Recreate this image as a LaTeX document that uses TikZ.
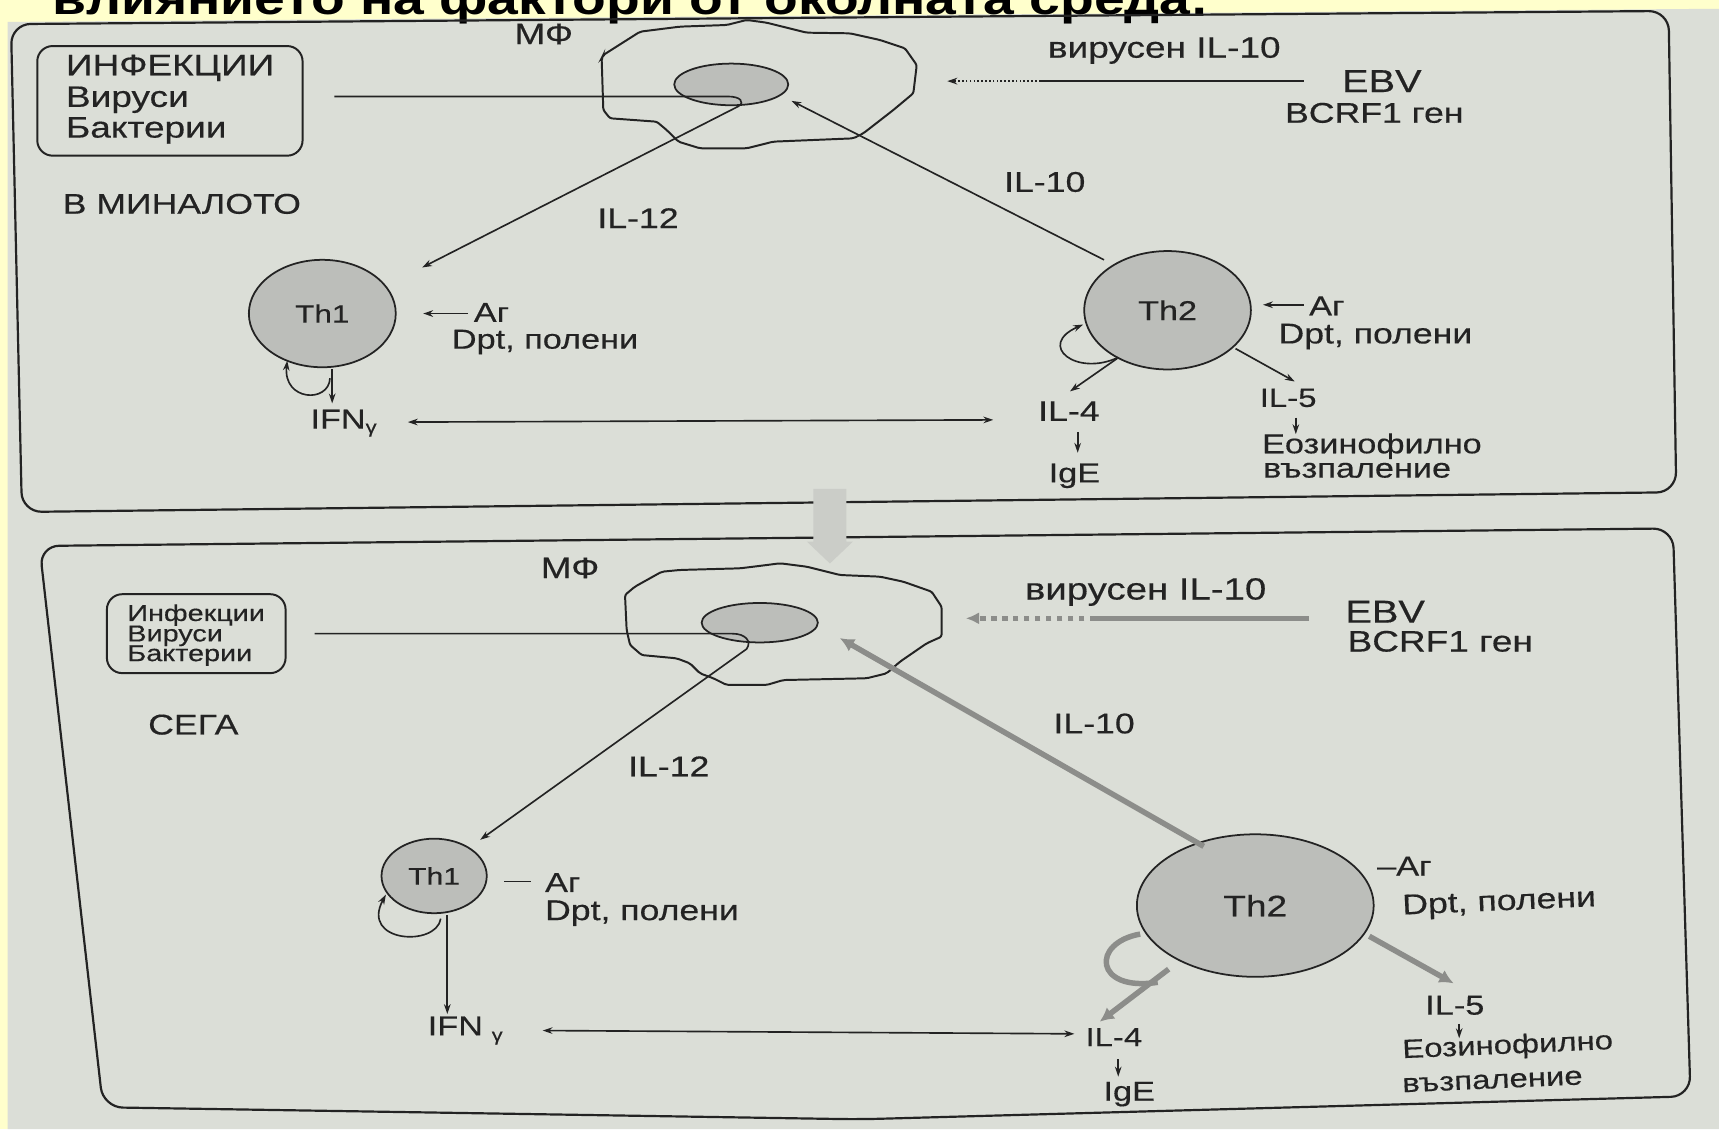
\documentclass[tikz,border=0pt]{standalone}
\usepackage{fontspec}
\setmainfont{Liberation Sans}[FakeStretch=1.25,FakeBold=0.4]
\newfontfamily\titlefont{Liberation Sans}[FakeStretch=1.2]
\usetikzlibrary{arrows.meta,shapes.geometric}
\definecolor{bgyellow}{RGB}{255,255,204}
\definecolor{paper}{RGB}{219,222,215}
\definecolor{ink}{RGB}{35,35,35}
\definecolor{cellfill}{RGB}{188,190,186}
\definecolor{thickgray}{RGB}{140,141,138}
\definecolor{arrowblob}{RGB}{203,205,200}
\newcommand\myfs[1]{\fontsize{#1}{#1}\selectfont}
\tikzset{
  inkline/.style={draw=ink, line width=1.5pt},
  arr/.style={inkline, -{Stealth[length=9pt,width=6pt]}},
  dblarr/.style={inkline, {Stealth[length=9pt,width=6pt]}-{Stealth[length=9pt,width=6pt]}},
  garr/.style={draw=thickgray, line width=5pt, -{Latex[length=13pt,width=13pt]}},
  gline/.style={draw=thickgray, line width=5pt},
  panel/.style={draw=ink, line width=2pt, rounded corners=18pt},
  cellline/.style={draw=ink, line width=1.8pt, rounded corners=2pt},
  tcell/.style={ellipse, draw=ink, line width=1.6pt, fill=cellfill, inner sep=0pt},
  lbl/.style={inner sep=0pt, text=ink},
  infbox/.style={draw=ink, line width=1.8pt, rounded corners=14pt, inner sep=0pt},
}
\begin{document}
\begin{tikzpicture}[x=1pt,y=-1pt]
\useasboundingbox (0,0) rectangle (1568,1030);
\clip (0,0) rectangle (1568,1030);
\fill[bgyellow] (0,0) rectangle (1568,1030);
\fill[paper] (7,20) -- (1568,8) -- (1568,1030) -- (7,1030) -- cycle;
\node[anchor=base west, inner sep=0pt, font=\titlefont\bfseries\myfs{42}] (title) at (48,13) {влиянието на фактори от околната среда:};

% ================= TOP PANEL =================
\draw[panel] (10,22) -- (1522,10) -- (1529,449) -- (20,467) -- cycle;
\node[infbox, minimum width=242pt, minimum height=100pt] (infbox1) at (155,92) {};
\node[lbl, anchor=west, font=\myfs{27}] (inf1a) at (60,62) {ИНФЕКЦИИ};
\node[lbl, anchor=west, font=\myfs{27}] (inf1b) at (60,91) {Вируси};
\node[lbl, anchor=west, font=\myfs{27}] (inf1c) at (60,119) {Бактерии};
\node[lbl, font=\myfs{27}] (mf1) at (496,31) {МФ};
\draw[cellline] (583.8,28.9) -- (550.3,50.2) -- (548.8,53.2) -- (550.3,100.3) -- (556.4,107.9) -- (599,111) -- (608.1,118.6) -- (618.7,129.2) -- (638.5,135.3) -- (681.1,135.3) -- (705.4,129.2) -- (778.4,126.2) -- (787.5,121.6) -- (814.9,100.3) -- (833.1,85.1) -- (836.2,59.3) -- (825.5,44.1) -- (802.7,36.5) -- (775.3,30.4) -- (735.8,29.8) -- (699.3,20.7) -- (681.1,18.2) -- (662.9,22.8) -- (620.3,24.3) -- cycle;
\node[tcell, minimum width=104pt, minimum height=38pt] (nuc1) at (667,77) {};
\node[lbl, font=\myfs{27}] (vir1) at (1062,46) {вирусен IL-10};
\node[lbl, anchor=west, font=\myfs{29}] (ebv1) at (1224,74) {EBV};
\node[lbl, anchor=west, font=\myfs{26}] (bcrf1) at (1172,103) {BCRF1 ген};
\coordinate (vtip1) at (864,74);
\coordinate (vmid1) at (949,74);
\coordinate (vend1) at (1189,74);
\draw[inkline] (vend1) -- (vmid1);
\draw[inkline, dotted, -{Stealth[length=9pt,width=6pt]}] (vmid1) -- (vtip1);
\node[lbl, anchor=west, font=\myfs{26}] (past) at (57,186) {В МИНАЛОТО};
\node[lbl, font=\myfs{26}] (il12a) at (582,199) {IL-12};
\node[lbl, font=\myfs{26}] (il10a) at (953,166) {IL-10};
\node[tcell, minimum width=134pt, minimum height=98pt, font=\myfs{23}, text=ink] (th1a) at (294,286) {Th1};
\node[tcell, minimum width=152pt, minimum height=108pt, font=\myfs{25}, text=ink] (th2a) at (1065,283) {Th2};
% IL-12 hook line
\coordinate (l1start) at (305,88);
\coordinate (hook1) at (673.5,97);
\coordinate (th1in) at (385,244);
\draw[arr] (l1start) -- (664,88) .. controls (675,88) and (680,93) .. (hook1) -- (th1in);
% IL-10
\coordinate (th2out) at (1007,237);
\coordinate (mfin1) at (722,92);
\draw[arr] (th2out) -- (mfin1);
% antigen Th1
\node[lbl, anchor=west, font=\myfs{25}] (ag1) at (432,285) {Аг};
\node[lbl, anchor=west, font=\myfs{25}] (dpt1) at (412,312) {Dpt, полени};
\coordinate (ag1s) at (427,286);
\coordinate (ag1e) at (386,286);
\draw[arr] (ag1s) -- (ag1e);
% Th1 loop and IFN
\draw[arr] (301,345) .. controls (300,368) and (258,366) .. (262,329);
\coordinate (ifnsA) at (303,337);
\coordinate (ifneA) at (303,368);
\draw[arr] (ifnsA) -- (ifneA);
\node[lbl, anchor=west, font=\myfs{25}] (ifn1) at (283,386) {IFN\raisebox{-4pt}{\myfs{16}γ}};
\node[lbl, font=\myfs{26}] (il4a) at (975,375) {IL-4};
\node[lbl, font=\myfs{25}] (ige1) at (980,434) {IgE};
\coordinate (dblL1) at (372,385);
\coordinate (dblR1) at (906,383);
\draw[dblarr] (dblL1) -- (dblR1);
\coordinate (ige1s) at (983,394);
\coordinate (ige1e) at (983,413);
\draw[arr] (ige1s) -- (ige1e);
% Th2 antigen
\node[lbl, anchor=west, font=\myfs{25}] (ag2) at (1194,279) {Аг};
\node[lbl, anchor=west, font=\myfs{26}] (dpt2) at (1166,307) {Dpt, полени};
\coordinate (ag2s) at (1189,278);
\coordinate (ag2e) at (1152,278);
\draw[arr] (ag2s) -- (ag2e);
% Th2 loop, IL-4, IL-5
\draw[arr] (1020,326) .. controls (982,344) and (945,315) .. (988,296);
\coordinate (il4s1) at (1019,327);
\coordinate (il4e1) at (976,357);
\draw[arr] (il4s1) -- (il4e1);
\coordinate (il5s1) at (1127,318);
\coordinate (il5e1) at (1181,348);
\draw[arr] (il5s1) -- (il5e1);
\node[lbl, font=\myfs{24}] (il5a) at (1175,363) {IL-5};
\coordinate (eo1s) at (1182,381);
\coordinate (eo1e) at (1182,396);
\draw[arr] (eo1s) -- (eo1e);
\node[lbl, anchor=west, font=\myfs{25}] (eo1) at (1151,407) {Еозинофилно};
\node[lbl, anchor=west, font=\myfs{25}] (vz1) at (1152,429) {възпаление};

% ================= BOTTOM PANEL =================
\draw[panel] (36,498) -- (1526,482) -- (1542,1000) -- (784,1021) -- (94,1010) -- cycle;
% ================= DOWN ARROW BETWEEN PANELS =================
\fill[arrowblob] (742,446) -- (772,446) -- (772,494) -- (778,494) -- (757,514) -- (736,494) -- (742,494) -- cycle;

\node[infbox, minimum width=163pt, minimum height=72pt] (infbox2) at (179,578) {};
\node[lbl, anchor=west, font=\myfs{21}] (inf2a) at (116,561) {Инфекции};
\node[lbl, anchor=west, font=\myfs{21}] (inf2b) at (116,580) {Вируси};
\node[lbl, anchor=west, font=\myfs{21}] (inf2c) at (116,598) {Бактерии};
\node[lbl, font=\myfs{27}] (mf2) at (520,518) {МФ};
\draw[cellline] (603.6,521.5) -- (579.2,535.1) -- (570.1,542.7) -- (571.6,574.7) -- (574.7,588.3) -- (585.3,597.5) -- (617.2,600.5) -- (629.4,605.1) -- (638.5,614.2) -- (650.7,618.7) -- (662.8,624.8) -- (699.3,624.8) -- (714.5,620.3) -- (790.5,618.7) -- (808.8,614.2) -- (820.9,603.6) -- (845.3,586.8) -- (858.9,580.7) -- (858.9,553.4) -- (849.8,539.7) -- (824,530.6) -- (802.7,526) -- (766.2,524.5) -- (735.8,516.9) -- (711.5,513.8) -- (699.3,515.4) -- (675,518.4) -- (620.3,519.9) -- cycle;
\node[tcell, minimum width=106pt, minimum height=36pt] (nuc2) at (693,568) {};
\node[lbl, font=\myfs{28}] (vir2) at (1045,540) {вирусен IL-10};
\node[lbl, anchor=west, font=\myfs{29}] (ebv2) at (1227,558) {EBV};
\node[lbl, anchor=west, font=\myfs{27}] (bcrf2) at (1229,585) {BCRF1 ген};
\coordinate (vtip2) at (881,564);
\coordinate (vmid2) at (999,564);
\coordinate (vend2) at (1194,564);
\draw[draw=thickgray, line width=5pt] (vend2) -- (vmid2);
\draw[draw=thickgray, line width=5pt, dash pattern=on 5pt off 5pt, -{Latex[length=12pt,width=11pt]}] (vmid2) -- (vtip2);
\node[lbl, anchor=west, font=\myfs{26}] (now) at (135,661) {СЕГА};
\node[lbl, font=\myfs{26}] (il12b) at (610,699) {IL-12};
\node[lbl, font=\myfs{26}] (il10b) at (998,660) {IL-10};
\node[tcell, minimum width=96pt, minimum height=68pt, font=\myfs{22}, text=ink] (th1b) at (396,799) {Th1};
\node[tcell, minimum width=216pt, minimum height=130pt, font=\myfs{27}, text=ink] (th2b) at (1145,826) {Th2};
% IL-12 hook line
\coordinate (l2start) at (287,578);
\coordinate (hook2) at (681,592);
\coordinate (th1in2) at (438,766);
\draw[arr] (l2start) -- (668,578) .. controls (680,578) and (686,585) .. (hook2) -- (th1in2);
% thick IL-10
\coordinate (th2out2) at (1098,772);
\coordinate (mfin2) at (766,582);
\draw[garr] (th2out2) -- (mfin2);
% antigen Th1
\coordinate (dashL) at (460,804);
\coordinate (dashR) at (484,804);
\draw[inkline] (dashL) -- (dashR);
\node[lbl, anchor=west, font=\myfs{25}] (ag3) at (497,805) {Аг};
\node[lbl, anchor=west, font=\myfs{26}] (dpt3) at (497,833) {Dpt, полени};
\draw[arr] (402,838) .. controls (398,864) and (328,860) .. (352,816);
\coordinate (ifnsB) at (408,835);
\coordinate (ifneB) at (408,925);
\draw[arr] (ifnsB) -- (ifneB);
\node[lbl, anchor=west, font=\myfs{25}] (ifn2) at (390,940) {IFN\hspace{8pt}\raisebox{-5pt}{\myfs{16}γ}};
\coordinate (dblL2) at (495,940);
\coordinate (dblR2) at (980,943);
\draw[dblarr] (dblL2) -- (dblR2);
\node[lbl, font=\myfs{24}] (il4b) at (1016,946) {IL-4};
\coordinate (ige2s) at (1020,966);
\coordinate (ige2e) at (1020,982);
\draw[arr] (ige2s) -- (ige2e);
\node[lbl, font=\myfs{25}] (ige2) at (1030,998) {IgE};
% Th2 antigen
\node[lbl, anchor=west, font=\myfs{25}] (ag4) at (1256,790) {–Аг};
\node[lbl, anchor=west, font=\myfs{26}, rotate=2.5] (dpt4) at (1279,828) {Dpt, полени};
% Th2 thick loop and arrows
\draw[gline] (1040,852) .. controls (995,860) and (998,905) .. (1056,896);
\coordinate (il4s2) at (1066,884);
\coordinate (il4e2) at (1003,932);
\draw[garr] (il4s2) -- (il4e2);
\coordinate (il5s2) at (1249,854);
\coordinate (il5e2) at (1326,897);
\draw[garr] (il5s2) -- (il5e2);
\node[lbl, font=\myfs{25}] (il5b) at (1327,917) {IL-5};
\coordinate (eo2s) at (1331,934);
\coordinate (eo2e) at (1331,947);
\draw[arr] (eo2s) -- (eo2e);
\node[lbl, anchor=west, font=\myfs{24}, rotate=2.5] (eo2) at (1279,959) {Еозинофилно};
\node[lbl, anchor=west, font=\myfs{24}, rotate=2.5] (vz2) at (1279,990) {възпаление};
\end{tikzpicture}
\end{document}
